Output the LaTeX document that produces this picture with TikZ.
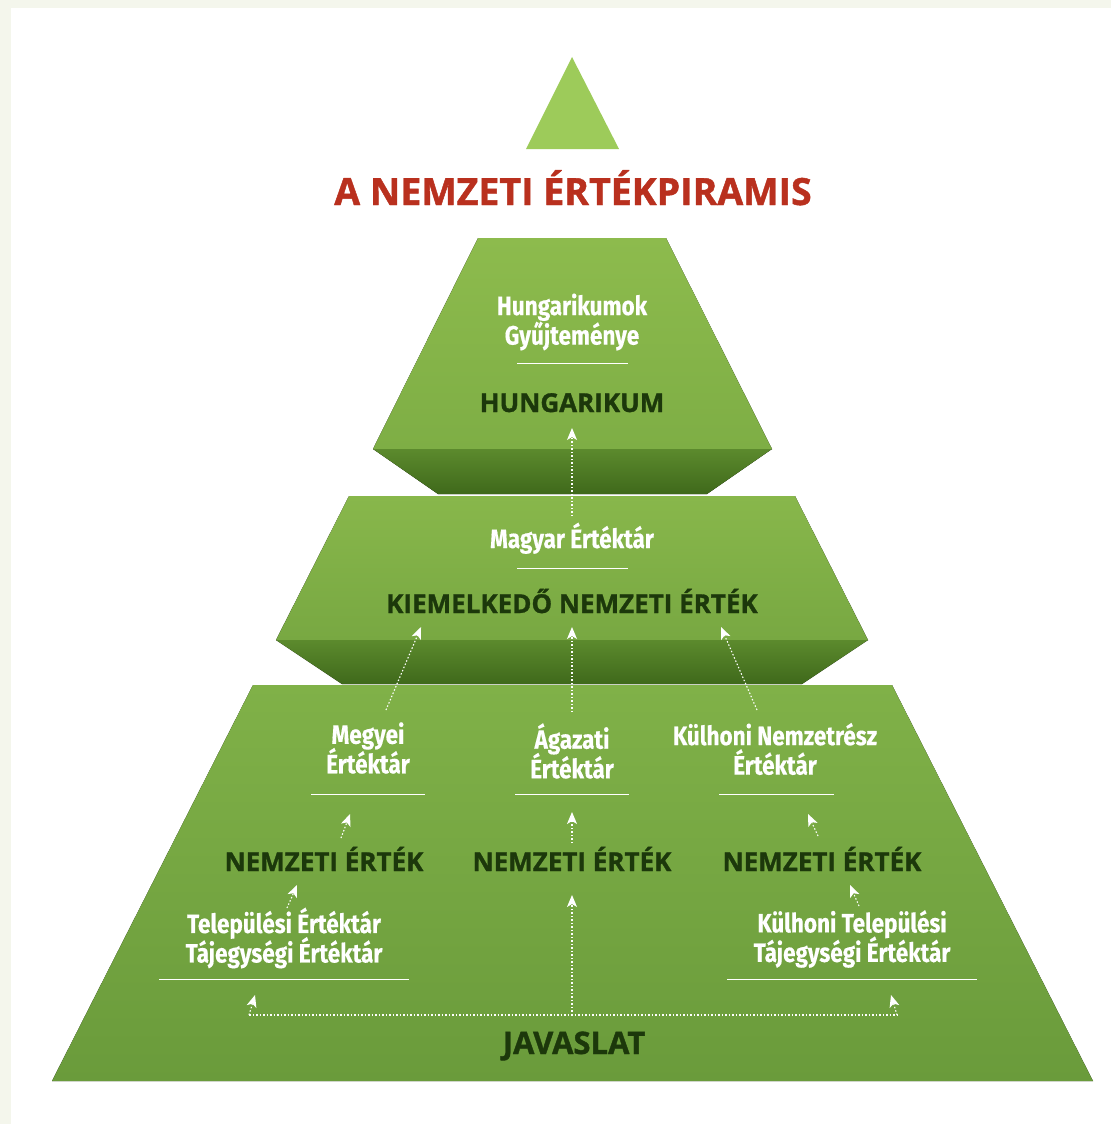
\documentclass[tikz,border=0pt]{standalone}
\usepackage{fontspec}
\setmainfont{Open Sans}
\newfontfamily\condfont[FakeStretch=0.85,BoldFeatures={FakeBold=0.4}]{Fira Sans}
\newfontfamily\headfont[BoldFeatures={FakeBold=1.2}]{Open Sans}
\newcommand\tightlines{\lineskiplimit-100pt\relax\lineskip0pt\relax}
\usetikzlibrary{arrows.meta}
\definecolor{framebg}{HTML}{F4F6EC}
\definecolor{tri}{HTML}{9DCB5A}
\definecolor{tfaceA}{HTML}{8DBB4D}
\definecolor{tfaceB}{HTML}{7EAE45}
\definecolor{mfaceA}{HTML}{88B74B}
\definecolor{mfaceB}{HTML}{78A842}
\definecolor{bevA}{HTML}{5C8A2D}
\definecolor{bevB}{HTML}{3F691B}
\definecolor{bfaceA}{HTML}{80B148}
\definecolor{bfaceB}{HTML}{6A9B3B}
\definecolor{darkg}{HTML}{1C380B}
\definecolor{titlered}{HTML}{B9301E}
\begin{document}
\begin{tikzpicture}[x=1pt,y=-1pt,
  whitetext/.style={text=white,font=\condfont\bfseries\fontsize{26.5}{29.5}\selectfont\tightlines,align=center,inner sep=0pt},
  darktext/.style={text=darkg,font=\headfont\bfseries\fontsize{26}{30}\selectfont,inner sep=0pt,anchor=base},
  sepline/.style={white,line width=0.9pt},
  flow/.style={white,line width=1.1pt,dash pattern=on 1.5pt off 2pt,-{Stealth[length=12pt,width=10pt,inset=3pt]}},
  plainflow/.style={white,line width=1.1pt,dash pattern=on 1.5pt off 2pt}
]
\useasboundingbox (0,0) rectangle (1111,1124);
\fill[framebg] (0,0) rectangle (1111,1124);
\fill[white] (11,8) rectangle (1111,1124);

% small triangle
\fill[tri] (572,57) -- (619,149) -- (526,149) -- cycle;
\node[anchor=base,inner sep=0pt,text=titlered,font=\headfont\bfseries\fontsize{37.5}{40}\selectfont] (title) at (573,205) {A NEMZETI ÉRTÉKPIRAMIS};

% top tier
\fill[top color=tfaceA,bottom color=tfaceB] (478,238) -- (666,238) -- (772,449) -- (373,449) -- cycle;
\fill[top color=bevA,bottom color=bevB] (373,449) -- (772,449) -- (707,494) -- (438,494) -- cycle;
% middle tier
\fill[top color=mfaceA,bottom color=mfaceB] (349,496) -- (795,496) -- (868,640) -- (276,640) -- cycle;
\fill[top color=bevA,bottom color=bevB] (276,640) -- (868,640) -- (802,684) -- (342,684) -- cycle;
% bottom tier
\fill[top color=bfaceA,bottom color=bfaceB] (253,685) -- (892,685) -- (1093,1081) -- (52,1081) -- cycle;

% top tier texts
\node[whitetext] (hgy) at (572,322) {Hungarikumok\\Gyűjteménye};
\coordinate (l1a) at (517,363); \coordinate (l1b) at (628,363);
\draw[sepline] (l1a) -- (l1b);
\node[darktext] (hung) at (572,412) {HUNGARIKUM};

% middle tier texts
\node[whitetext,anchor=base] (magy) at (572,548) {Magyar Értéktár};
\coordinate (l2a) at (517,568); \coordinate (l2b) at (628,568);
\draw[sepline] (l2a) -- (l2b);
\node[darktext] (kiem) at (572,613) {KIEMELKEDŐ NEMZETI ÉRTÉK};

% bottom tier texts
\node[whitetext] (megy) at (368,748) {Megyei\\Értéktár};
\node[whitetext] (agaz) at (572,751) {Ágazati\\Értéktár};
\node[whitetext] (kulh) at (775,749) {Külhoni Nemzetrész\\Értéktár};
\coordinate (l3a) at (311,794); \coordinate (l3b) at (425,794);
\coordinate (l4a) at (515,794); \coordinate (l4b) at (629,794);
\coordinate (l5a) at (719,794); \coordinate (l5b) at (834,794);
\draw[sepline] (l3a) -- (l3b);
\draw[sepline] (l4a) -- (l4b);
\draw[sepline] (l5a) -- (l5b);
\node[darktext] (nL) at (324,871) {NEMZETI ÉRTÉK};
\node[darktext] (nC) at (572,871) {NEMZETI ÉRTÉK};
\node[darktext] (nR) at (822,871) {NEMZETI ÉRTÉK};
\node[whitetext] (telep) at (284,938) {Települési Értéktár\\Tájegységi Értéktár};
\node[whitetext] (ktelep) at (852,939) {Külhoni Települési\\Tájegységi Értéktár};
\coordinate (l6a) at (159,979); \coordinate (l6b) at (409,979);
\coordinate (l7a) at (727,979); \coordinate (l7b) at (977,979);
\draw[sepline] (l6a) -- (l6b);
\draw[sepline] (l7a) -- (l7b);
\node[darktext,font=\headfont\bfseries\fontsize{31}{34}\selectfont] (jav) at (574,1054) {JAVASLAT};

% flow connectors
\coordinate (tA) at (572,516); \coordinate (hA) at (572,428);
\draw[flow] (tA) -- (hA);
\coordinate (tB1) at (386,710); \coordinate (hB1) at (421,627);
\coordinate (tB2) at (572,712); \coordinate (hB2) at (572,627);
\coordinate (tB3) at (757,710); \coordinate (hB3) at (721,627);
\draw[flow] (tB1) -- (hB1);
\draw[flow] (tB2) -- (hB2);
\draw[flow] (tB3) -- (hB3);
\coordinate (tC1) at (341,838); \coordinate (hC1) at (350,814);
\coordinate (tC2) at (572,843); \coordinate (hC2) at (572,812);
\coordinate (tC3) at (818,836); \coordinate (hC3) at (808,814);
\draw[flow] (tC1) -- (hC1);
\draw[flow] (tC2) -- (hC2);
\draw[flow] (tC3) -- (hC3);
\coordinate (tD1) at (287,908); \coordinate (hD1) at (297,885);
\coordinate (tD3) at (859,906); \coordinate (hD3) at (850,885);
\draw[flow] (tD1) -- (hD1);
\draw[flow] (tD3) -- (hD3);
\coordinate (jL) at (249,1015); \coordinate (jC) at (572,1015); \coordinate (jR) at (897,1015);
\coordinate (hEL) at (255,995); \coordinate (hER) at (891,995); \coordinate (hEC) at (572,895);
\draw[plainflow] (jL) -- (jR);
\draw[flow] (jC) -- (hEC);
\draw[flow] (jL) -- (hEL);
\draw[flow] (jR) -- (hER);
\end{tikzpicture}
\end{document}
